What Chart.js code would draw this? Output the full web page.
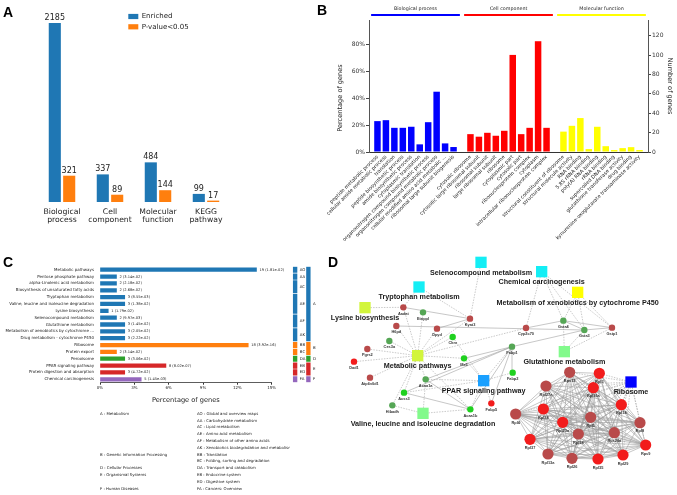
<!DOCTYPE html>
<html>
<head>
<meta charset="utf-8">
<script src="https://cdn.jsdelivr.net/npm/chart.js@4.4.1/dist/chart.umd.min.js"></script>
<style>
  html, body { margin: 0; padding: 0; background: #fff; }
  body { position: relative; width: 677px; height: 495px; overflow: hidden; }
  canvas { position: absolute; }
  .tag { position: absolute; font: bold 14px "Liberation Sans", Arial, sans-serif; line-height: 1; color: #000; }
</style>
</head>
<body>
<canvas id="chartA" width="230" height="230" style="left:0;top:0"></canvas>
<canvas id="chartB" width="377" height="245" style="left:300px;top:0"></canvas>
<canvas id="chartC" width="290" height="240" style="left:0;top:255px"></canvas>
<canvas id="chartClass" width="45" height="240" style="left:285px;top:255px"></canvas>
<canvas id="chartD" width="347" height="255" style="left:330px;top:240px"></canvas>
<div class="tag" style="left:3px;top:5px">A</div>
<div class="tag" style="left:317px;top:3px">B</div>
<div class="tag" style="left:3px;top:255px">C</div>
<div class="tag" style="left:328px;top:255px">D</div>
<script>
// ---------- panel A : enrichment counts
const goCategories = [['Biological', 'process'], ['Cell', 'component'], ['Molecular', 'function'], ['KEGG', 'pathway']];
const enrichedCounts = [2185, 337, 484, 99];
const significantCounts = [321, 89, 144, 17];

// ---------- panel B : GO terms
const bpTerms = ['peptide metabolic process', 'cellular amide metabolic process', 'translation',
  'peptide biosynthetic process', 'amide biosynthetic process', 'cytoplasmic translation',
  'organonitrogen compound biosynthetic process', 'organonitrogen compound metabolic process',
  'cellular modified amino acid metabolic ...', 'ribosomal large subunit biogenesis'];
const bpPercent = [23, 23.7, 18, 18, 18.8, 5.7, 22.2, 44.9, 6.4, 3.7];
const ccTerms = ['cytosolic ribosome', 'cytosolic large ribosomal subunit', 'ribosomal subunit',
  'large ribosomal subunit', 'ribosome', 'cytoplasmic part', 'cytosolic part',
  'ribonucleoprotein complex', 'cytoplasm', 'intracellular ribonucleoprotein complex'];
const ccPercent = [13.3, 11.4, 14.3, 12.1, 15.8, 72.3, 13.3, 18, 82.5, 18];
const mfTerms = ['structural constituent of ribosome', 'structural molecule activity', 'RNA binding',
  '5.8S rRNA binding', 'poly(A) RNA binding', 'rRNA binding', 'supercoiled DNA binding',
  'glutathione transferase activity', 'drug binding', 'kynurenine-oxoglutarate transaminase activity'];
const mfCounts = [21, 27, 35, 3, 26, 6, 2, 4, 5, 2];

// ---------- panel C : KEGG pathways
const keggTerms = ['Metabolic pathways', 'Pentose phosphate pathway', 'alpha-Linolenic acid metabolism',
  'Biosynthesis of unsaturated fatty acids', 'Tryptophan metabolism', 'Valine, leucine and isoleucine degradation',
  'Lysine biosynthesis', 'Selenocompound metabolism', 'Glutathione metabolism',
  'Metabolism of xenobiotics by cytochrome ...', 'Drug metabolism - cytochrome P450', 'Ribosome',
  'Protein export', 'Peroxisome', 'PPAR signaling pathway', 'Protein digestion and absorption',
  'Chemical carcinogenesis'];
const keggPercent = [13.67, 1.44, 1.44, 1.44, 2.16, 2.16, 0.72, 1.44, 2.16, 2.16, 2.16, 12.95, 1.44, 2.16, 5.76, 2.16, 3.6];
const keggNotes = ['19 (1.81e-02)', '2 (3.14e-02)', '2 (2.18e-02)', '2 (2.68e-02)', '3 (8.55e-03)',
  '3 (1.38e-02)', '1 (1.79e-02)', '2 (9.97e-03)', '3 (1.45e-02)', '3 (2.05e-02)', '3 (2.22e-02)',
  '18 (3.92e-16)', '2 (3.14e-02)', '3 (3.06e-02)', '8 (8.02e-07)', '3 (4.72e-02)', '5 (1.45e-03)'];
const keggClass = ['A', 'A', 'A', 'A', 'A', 'A', 'A', 'A', 'A', 'A', 'A', 'B', 'B', 'D', 'E', 'E', 'F'];
const subClassCodes = ['AO', 'AA', 'AC', 'AE', 'AF', 'AK', 'BB', 'BC', 'DA', 'EB', 'ED', 'FA'];
const subClassNames = ['Global and overview maps', 'Carbohydrate metabolism', 'Lipid metabolism',
  'Amino acid metabolism', 'Metabolism of other amino acids', 'Xenobiotics biodegradation and metabolism',
  'Translation', 'Folding, sorting and degradation', 'Transport and catabolism', 'Endocrine system',
  'Digestive system', 'Cancers: Overview'];
const subClassRows = [[0, 0], [1, 1], [2, 3], [4, 6], [7, 8], [9, 10], [11, 11], [12, 12], [13, 13], [14, 14], [15, 15], [16, 16]];
const mainClassCodes = ['A', 'B', 'D', 'E', 'F'];
const mainClassNames = ['Metabolism', 'Genetic Information Processing', 'Cellular Processes', 'Organismal Systems', 'Human Diseases'];
const mainClassRows = [[0, 10], [11, 12], [13, 13], [14, 15], [16, 16]];

// ---------- panel D : network (layout units)
const pathwayNames = ['Selenocompound metabolism', 'Chemical carcinogenesis', 'Tryptophan metabolism',
  'Metabolism of xenobiotics by cytochrome P450', 'Lysine biosynthesis', 'Glutathione metabolism',
  'Metabolic pathways', 'PPAR signaling pathway', 'Ribosome', 'Valine, leucine and isoleucine degradation'];
const pathwayX = [453, 635, 267, 743, 105, 703, 263, 461, 903, 279];
const pathwayY = [67, 95, 141, 157, 203, 335, 347, 422, 426, 520];
const geneNames = ['Aadat', 'Etnppl', 'H6pd', 'Dpyd', 'Kyat3', 'Ckm', 'Ces3a', 'Pgrs2', 'Dad1', 'Me5',
  'Atp6v0d1', 'Acaa1a', 'Acss3', 'Hibadh', 'Fabp1', 'Fabp2', 'Fabp5', 'Acaa1b', 'Cyp2c70', 'Gsta4',
  'Gsta3', 'Gstp1', 'Rps13', 'Rpl3', 'Rpl27a', 'Rpl36a', 'Rpl14', 'Rpl34', 'Rpl4', 'Rpl23a', 'Rpl5',
  'Rpl8', 'Rpl18', 'Rps20a', 'Rpl37', 'Rps9', 'Rpl13a', 'Rpl26', 'Rpl35', 'Rpl29'];
const geneX = [220, 279, 199, 321, 420, 368, 178, 112, 72, 402, 120, 287, 222, 187, 546, 548, 484, 421, 588, 700,
  763, 846, 719, 808, 648, 790, 874, 640, 557, 698, 782, 930, 745, 853, 600, 947, 654, 726, 804, 879];
const geneY = [202, 217, 258, 266, 236, 291, 303, 327, 365, 355, 413, 418, 458, 496, 320, 398, 490, 508, 264, 242,
  270, 263, 397, 400, 438, 443, 494, 507, 522, 547, 532, 548, 582, 578, 598, 615, 642, 655, 657, 645];
const geneRegulation = ['upMild', 'down', 'upMild', 'upMild', 'upMild', 'downStrong', 'down', 'upMild', 'up', 'downStrong',
  'upMild', 'down', 'downStrong', 'down', 'down', 'downStrong', 'up', 'downStrong', 'upMild', 'down',
  'down', 'upMild', 'upMild', 'up', 'upMild', 'up', 'up', 'up', 'upMild', 'up', 'upMild',
  'upMild', 'upMild', 'upMild', 'up', 'up', 'upMild', 'upMild', 'up', 'up'];
const ribosomeGenes = geneNames.slice(22);
const pathwayGenes = [
  ['Kyat3'],
  ['Cyp2c70', 'Gsta4', 'Gsta3', 'Gstp1'],
  ['Aadat', 'Kyat3'],
  ['Gsta4', 'Gsta3', 'Gstp1'],
  ['Aadat'],
  ['Gsta4', 'Gsta3', 'Gstp1'],
  ['Aadat', 'Etnppl', 'H6pd', 'Dpyd', 'Kyat3', 'Ckm', 'Ces3a', 'Pgrs2', 'Dad1', 'Me5', 'Atp6v0d1',
    'Acaa1a', 'Acss3', 'Hibadh', 'Acaa1b', 'Cyp2c70'],
  ['Fabp1', 'Fabp2', 'Fabp5', 'Acaa1a', 'Acaa1b', 'Me5', 'Acss3', 'Ckm'],
  ribosomeGenes,
  ['Hibadh', 'Acaa1a', 'Acaa1b']
];
const geneLinks = [['Aadat', 'Kyat3'], ['H6pd', 'Gsta3'], ['Dpyd', 'Kyat3'], ['Me5', 'Fabp1'], ['Acss3', 'Fabp1'],
  ['Acaa1a', 'Fabp1'], ['Acaa1b', 'Fabp1'], ['Fabp5', 'Fabp1'], ['Fabp2', 'Fabp1'], ['Acss3', 'Acaa1b'],
  ['Acaa1a', 'Acaa1b'], ['Fabp1', 'Gsta3'], ['Gsta4', 'Gsta3'], ['Gsta4', 'Gstp1'], ['Gsta3', 'Gstp1'],
  ['Cyp2c70', 'Gsta4']];

// ---------- common
const FONT = '"DejaVu Sans", sans-serif';
const NET_FONT = '"Liberation Sans", Arial, sans-serif';
Chart.defaults.font.family = FONT;
Chart.defaults.color = '#222';
Chart.defaults.animation = false;
Chart.defaults.responsive = false;
Chart.defaults.plugins.legend.display = false;
Chart.defaults.plugins.tooltip.enabled = false;

const classColors = { A: '#1f77b4', B: '#ff7f0e', D: '#2ca02c', E: '#d62728', F: '#9467bd' };

// ======== A
const panelALabels = {
  id: 'panelALabels',
  afterDatasetsDraw(chart) {
    const ctx = chart.ctx;
    ctx.save();
    ctx.fillStyle = '#222';
    ctx.font = '8px ' + FONT;
    ctx.textAlign = 'center';
    ctx.textBaseline = 'alphabetic';
    chart.data.datasets.forEach((ds, i) => {
      chart.getDatasetMeta(i).data.forEach((bar, j) => {
        ctx.fillText(ds.data[j], bar.x, bar.y - 3);
      });
    });
    // legend
    ctx.font = '7px ' + FONT;
    ctx.textAlign = 'left';
    ctx.textBaseline = 'middle';
    chart.data.datasets.forEach((ds, i) => {
      const y = 16.5 + i * 10.3;
      ctx.fillStyle = ds.backgroundColor;
      ctx.fillRect(128.3, y - 2.6, 10, 5.2);
      ctx.fillStyle = '#222';
      ctx.fillText(ds.label, 141.7, y);
    });
    ctx.restore();
  }
};

new Chart('chartA', {
  type: 'bar',
  data: {
    labels: goCategories,
    datasets: [
      { label: 'Enriched', data: enrichedCounts, backgroundColor: '#1f77b4', categoryPercentage: 0.6, barPercentage: 0.84 },
      { label: 'P-value<0.05', data: significantCounts, backgroundColor: '#ff7f0e', categoryPercentage: 0.6, barPercentage: 0.84 }
    ]
  },
  options: {
    layout: { padding: { top: 10, left: 38, right: 0, bottom: 0 } },
    scales: {
      x: {
        grid: { display: false, drawTicks: false },
        border: { display: false },
        ticks: { font: { size: 7.7, lineHeight: 1.05 }, color: '#222', padding: 6, maxRotation: 0, autoSkip: false },
        afterFit(s) { s.height = 28; }
      },
      y: { display: false, min: 0, max: 2344 }
    }
  },
  plugins: [panelALabels]
});

// ======== B
const bLabels = ['', ...bpTerms, '', ...ccTerms, '', ...mfTerms, ''];
const bpStart = 1;
const ccStart = bpStart + bpTerms.length + 1;
const mfStart = ccStart + ccTerms.length + 1;
function placeAt(values, start) {
  const out = bLabels.map(() => null);
  values.forEach((v, i) => { out[start + i] = v; });
  return out;
}
const goGroups = [
  { name: 'Biological process', color: '#0000ff', first: bpStart, last: bpStart + bpTerms.length - 1 },
  { name: 'Cell component', color: '#ff0000', first: ccStart, last: ccStart + ccTerms.length - 1 },
  { name: 'Molecular function', color: '#ffff00', first: mfStart, last: mfStart + mfTerms.length - 1 }
];

const groupHeaders = {
  id: 'groupHeaders',
  afterDraw(chart) {
    const { ctx } = chart;
    const x = chart.scales.x;
    const slot = x.getPixelForTick(1) - x.getPixelForTick(0);
    ctx.save();
    goGroups.forEach(g => {
      const x0 = x.getPixelForTick(g.first) - 0.75 * slot;
      const x1 = x.getPixelForTick(g.last) + 0.75 * slot;
      ctx.strokeStyle = g.color;
      ctx.lineWidth = 2;
      ctx.beginPath();
      ctx.moveTo(x0, 15);
      ctx.lineTo(x1, 15);
      ctx.stroke();
      ctx.fillStyle = '#222';
      ctx.font = '4.8px ' + FONT;
      ctx.textAlign = 'center';
      ctx.textBaseline = 'middle';
      ctx.fillText(g.name, (x0 + x1) / 2, 8.5);
    });
    // left axis title
    ctx.translate(40, 98);
    ctx.rotate(-Math.PI / 2);
    ctx.font = '6.6px ' + FONT;
    ctx.fillText('Percentage of genes', 0, 0);
    ctx.restore();
  }
};

new Chart('chartB', {
  type: 'bar',
  data: {
    labels: bLabels,
    datasets: [
      { data: placeAt(bpPercent, bpStart), backgroundColor: '#0000ff', grouped: false, categoryPercentage: 0.8, barPercentage: 0.96 },
      { data: placeAt(ccPercent, ccStart), backgroundColor: '#ff0000', grouped: false, categoryPercentage: 0.8, barPercentage: 0.96 },
      { data: placeAt(mfCounts, mfStart), backgroundColor: '#ffff00', grouped: false, categoryPercentage: 0.8, barPercentage: 0.96, yAxisID: 'y1' }
    ]
  },
  options: {
    layout: { padding: { top: 20, left: 0, right: 0, bottom: 0 } },
    scales: {
      x: {
        offset: false,
        grid: { display: false, drawTicks: false },
        border: { display: true, color: '#333', width: 1 },
        ticks: { autoSkip: false, minRotation: 45, maxRotation: 45, font: { size: 5 }, color: '#222', padding: 2 },
        afterFit(s) { s.height = 93; }
      },
      y: {
        min: 0, max: 98.3,
        grid: { drawOnChartArea: false, tickLength: 3, color: '#444' },
        border: { display: true, color: '#555', width: 1 },
        ticks: { stepSize: 20, includeBounds: false, callback: v => v + '%', font: { size: 6 }, color: '#333', padding: 1 },
        afterFit(s) { s.width = 69; }
      },
      y1: {
        position: 'right',
        min: 0, max: 136.1,
        grid: { drawOnChartArea: false, tickLength: 3, color: '#444' },
        border: { display: true, color: '#555', width: 1 },
        ticks: { stepSize: 20, includeBounds: false, font: { size: 6 }, color: '#333', padding: 1 },
        title: { display: true, text: 'Number of genes', font: { size: 6.6 }, color: '#222', padding: { top: 3, bottom: 0 } },
        afterFit(s) { s.width = 29; }
      }
    }
  },
  plugins: [groupHeaders]
});

// ======== C
const keggNotesPlugin = {
  id: 'keggNotes',
  afterDatasetsDraw(chart) {
    const ctx = chart.ctx;
    ctx.save();
    ctx.fillStyle = '#222';
    ctx.font = '3.6px ' + FONT;
    ctx.textAlign = 'left';
    ctx.textBaseline = 'middle';
    chart.getDatasetMeta(0).data.forEach((bar, i) => {
      ctx.fillText(keggNotes[i], bar.x + 3, bar.y);
    });
    // class legend under the axis
    ctx.font = '3.9px ' + FONT;
    const rowY = i => 158.7 + i * 6.82;
    subClassCodes.forEach((c, i) => ctx.fillText(c + ' : ' + subClassNames[i], 197, rowY(i)));
    mainClassCodes.forEach((c, i) => {
      const row = subClassCodes.findIndex(s => s[0] === c);
      ctx.fillText(c + ' : ' + mainClassNames[i], 100, rowY(row));
    });
    ctx.restore();
  }
};

new Chart('chartC', {
  type: 'bar',
  data: {
    labels: keggTerms,
    datasets: [{ data: keggPercent, backgroundColor: keggClass.map(c => classColors[c]), barThickness: 3.6 }]
  },
  options: {
    indexAxis: 'y',
    layout: { padding: { top: 11.3, right: 18.3, bottom: 90, left: 0 } },
    scales: {
      x: {
        min: 0, max: 15,
        grid: { drawOnChartArea: false, tickLength: 2, color: '#333' },
        border: { display: true, color: '#333', width: 0.8 },
        ticks: { stepSize: 3, includeBounds: false, callback: v => v + '%', font: { size: 4 }, color: '#222', padding: 1 },
        title: { display: true, text: 'Percentage of genes', font: { size: 6.6 }, color: '#222', padding: { top: 0, bottom: 0.3 } },
        afterFit(s) { s.height = 22.3; }
      },
      y: {
        grid: { display: false, drawTicks: false },
        border: { display: false },
        ticks: { autoSkip: false, font: { size: 4 }, color: '#222', padding: 6 },
        afterFit(s) { s.width = 100; }
      }
    }
  },
  plugins: [keggNotesPlugin]
});

// class boxes beside panel C
const classSegments = [
  ...subClassCodes.map((c, i) => ({ code: c, level: 'sub', rows: subClassRows[i] })),
  ...mainClassCodes.map((c, i) => ({ code: c, level: 'main', rows: mainClassRows[i] }))
];
const classCodeLabels = {
  id: 'classCodeLabels',
  afterDatasetsDraw(chart) {
    const ctx = chart.ctx;
    ctx.save();
    ctx.fillStyle = '#222';
    ctx.font = '3.9px ' + FONT;
    ctx.textAlign = 'left';
    ctx.textBaseline = 'middle';
    chart.getDatasetMeta(0).data.forEach((el, i) => {
      ctx.fillText(classSegments[i].code, el.x + el.width / 2 + 2.8, (el.y + el.base) / 2);
    });
    ctx.restore();
  }
};
new Chart('chartClass', {
  type: 'bar',
  data: {
    labels: ['sub', 'main'],
    datasets: [{
      data: classSegments.map(s => ({ x: s.level, y: [s.rows[0] - 0.4, s.rows[1] + 0.4] })),
      backgroundColor: classSegments.map(s => classColors[s.code[0]]),
      barThickness: 3.7
    }]
  },
  options: {
    layout: { padding: { top: 11.3, bottom: 112.3, left: 3.5, right: 15 } },
    scales: {
      x: { display: false },
      y: { display: false, min: -0.5, max: 16.5, reverse: true }
    }
  },
  plugins: [classCodeLabels]
});

// ======== D
const regulationColors = { up: '#f21c1c', upMild: '#b94a4a', down: '#55a655', downStrong: '#1fd11f' };
const pathwayFill = ['#14eef5', '#14eef5', '#14eef5', '#ffff00', '#d2f53c', '#82fa8c', '#d2f53c', '#1aa0ff', '#0000ff', '#82fa8c'];
const geneRadius = i => (ribosomeGenes.includes(geneNames[i]) ? 5.6 : 3.2);

function nodePos(name) {
  const g = geneNames.indexOf(name);
  if (g >= 0) return { x: geneX[g], y: geneY[g] };
  const p = pathwayNames.indexOf(name);
  return { x: pathwayX[p], y: pathwayY[p] };
}
function edgePoints(pairs) {
  const pts = [];
  pairs.forEach(([a, b]) => {
    const p = nodePos(a), q = nodePos(b);
    pts.push(p, q, { x: q.x, y: NaN });
  });
  return pts;
}
const memberPairs = [];
pathwayGenes.forEach((genes, i) => genes.forEach(g => memberPairs.push([pathwayNames[i], g])));
const solidPairs = [...geneLinks];
ribosomeGenes.forEach((a, i) => ribosomeGenes.slice(i + 1).forEach(b => solidPairs.push([a, b])));

const networkLabels = {
  id: 'networkLabels',
  afterDatasetsDraw(chart) {
    const { ctx } = chart;
    const { x, y } = chart.scales;
    ctx.save();
    ctx.textAlign = 'center';
    ctx.textBaseline = 'middle';
    ctx.fillStyle = '#1a1a1a';
    ctx.font = 'bold 7.2px ' + NET_FONT;
    pathwayNames.forEach((n, i) => {
      ctx.fillText(n, x.getPixelForValue(pathwayX[i]), y.getPixelForValue(pathwayY[i]) + 10.5);
    });
    ctx.font = 'bold 3.9px ' + NET_FONT;
    ctx.fillStyle = '#333';
    geneNames.forEach((n, i) => {
      ctx.fillText(n, x.getPixelForValue(geneX[i]), y.getPixelForValue(geneY[i]) + geneRadius(i) + 3);
    });
    ctx.restore();
  }
};

new Chart('chartD', {
  type: 'scatter',
  data: {
    datasets: [
      {
        data: geneNames.map((n, i) => ({ x: geneX[i], y: geneY[i] })),
        backgroundColor: geneRegulation.map(r => regulationColors[r]),
        pointRadius: geneNames.map((n, i) => geneRadius(i)),
        borderWidth: 0, order: 1
      },
      {
        data: pathwayNames.map((n, i) => ({ x: pathwayX[i], y: pathwayY[i] })),
        backgroundColor: pathwayFill,
        pointStyle: 'rect', pointRadius: 8, borderWidth: 0, order: 0
      },
      {
        data: edgePoints(solidPairs), showLine: true, pointRadius: 0,
        borderColor: '#999', borderWidth: 0.55, order: 3
      },
      {
        data: edgePoints(memberPairs), showLine: true, pointRadius: 0,
        borderColor: '#a6a6a6', borderWidth: 0.6, borderDash: [1.5, 1.2], order: 2
      }
    ]
  },
  options: {
    layout: { autoPadding: false, padding: 0 },
    scales: {
      x: { type: 'linear', display: false, min: 0, max: 1041 },
      y: { type: 'linear', display: false, min: 0, max: 765, reverse: true }
    }
  },
  plugins: [networkLabels]
});
</script>
</body>
</html>
